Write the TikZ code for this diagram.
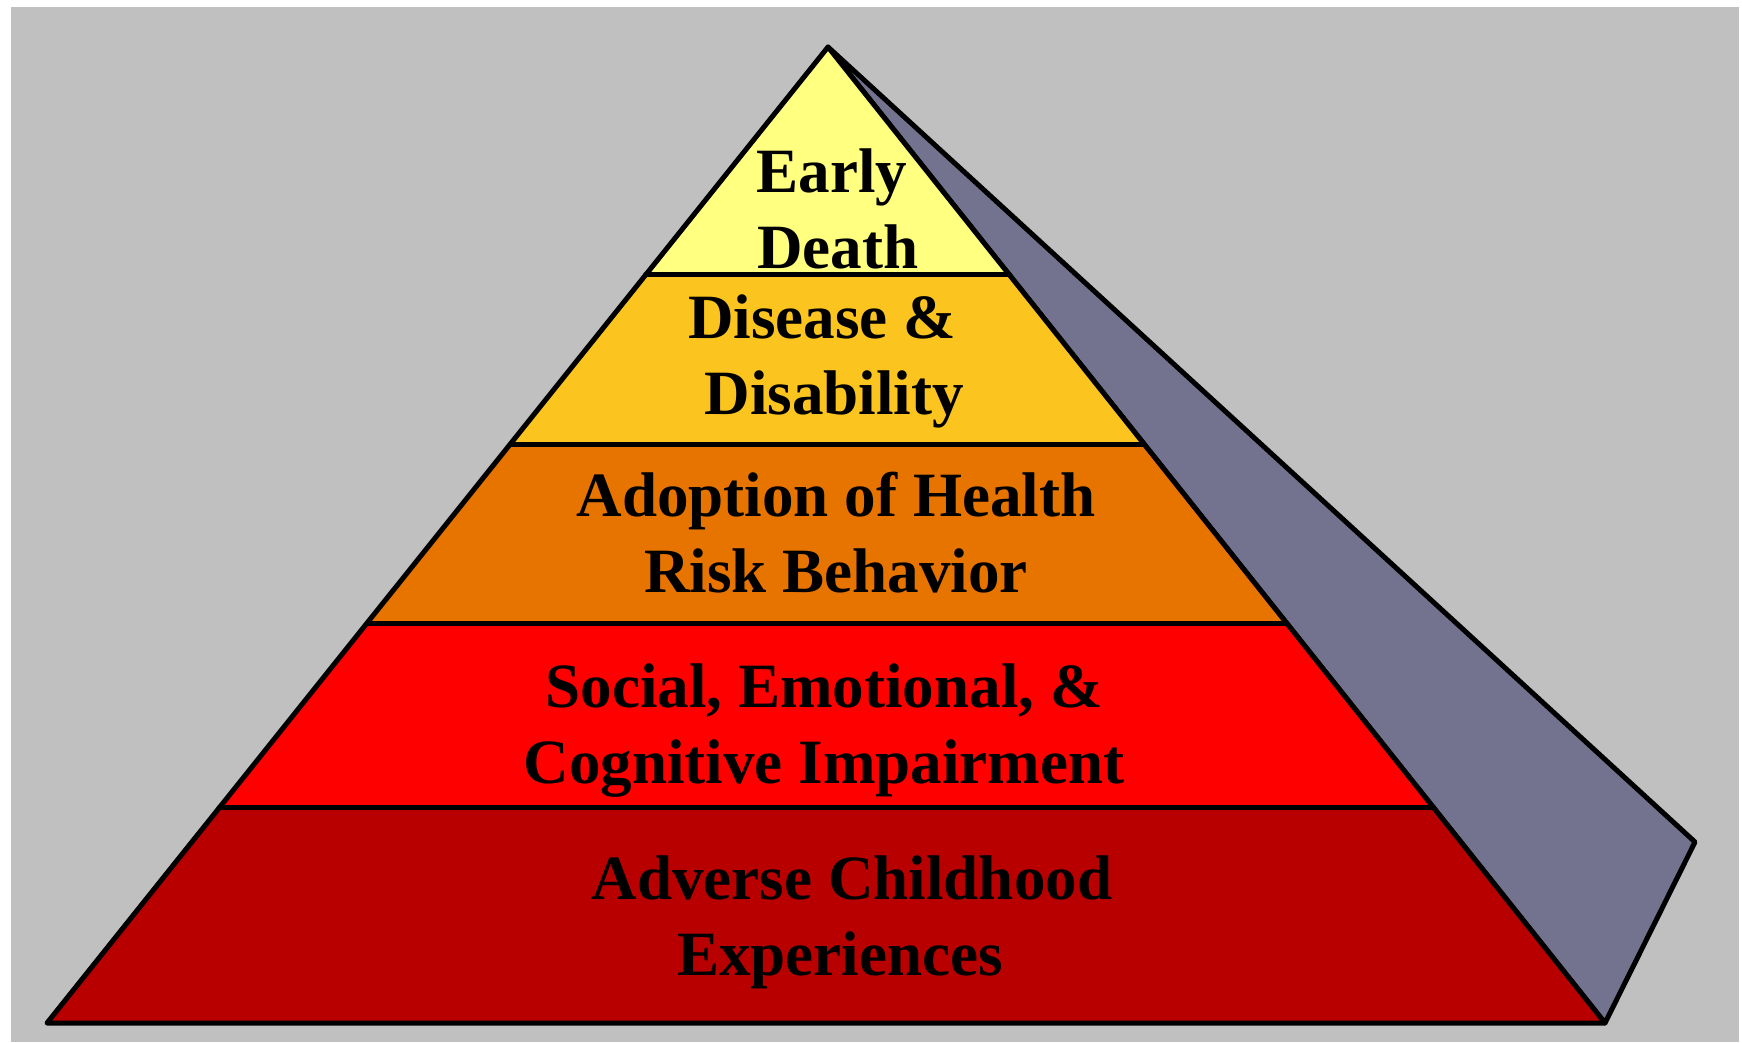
\documentclass[tikz,border=0pt]{standalone}
\usepackage{fontspec}
\setmainfont{Liberation Serif}
\usepackage{tikz}
\usetikzlibrary{calc}
\definecolor{ffffff}{rgb}{1.,1.,1.}
\definecolor{cccccc}{rgb}{0.7529,0.7529,0.7529}
\definecolor{ffff80}{rgb}{1.,1.,0.5}
\definecolor{fbc41f}{rgb}{0.984,0.769,0.122}
\definecolor{e87400}{rgb}{0.91,0.455,0.}
\definecolor{ff0000}{rgb}{1.,0.,0.}
\definecolor{b80000}{rgb}{0.722,0.,0.}
\definecolor{737390}{rgb}{0.451,0.451,0.565}
\tikzstyle{every node}=[font=\fontsize{35.9}{43.2}\selectfont\bfseries,align=center]

\begin{document}
\begin{tikzpicture}[line cap=round,line join=round,x=0.02cm,y=-0.02cm]
\useasboundingbox (0,0) rectangle (1742,1042);
\fill [color=ffffff] (0,0) rectangle (1742,1042);
\fill [color=cccccc] (11,7) rectangle (1739,1042);
% corners of the pyramid and its side face
\coordinate (top) at (828,47);
\coordinate (botL) at (47,1023);
\coordinate (botR) at (1605,1023);
\coordinate (side) at (1695,842);
% layer edges
\coordinate (l1) at ($(top)!0.2336!(botL)$);
\coordinate (r1) at ($(top)!0.2336!(botR)$);
\coordinate (l2) at ($(top)!0.4068!(botL)$);
\coordinate (r2) at ($(top)!0.4068!(botR)$);
\coordinate (l3) at ($(top)!0.5902!(botL)$);
\coordinate (r3) at ($(top)!0.5902!(botR)$);
\coordinate (l4) at ($(top)!0.7797!(botL)$);
\coordinate (r4) at ($(top)!0.7797!(botR)$);
\draw [line width=0.1cm,fill=737390] (top) -- (side) -- (botR) -- cycle;
\fill [color=ffff80] (top) -- (r1) -- (l1) -- cycle;
\fill [color=fbc41f] (l1) -- (r1) -- (r2) -- (l2) -- cycle;
\fill [color=e87400] (l2) -- (r2) -- (r3) -- (l3) -- cycle;
\fill [color=ff0000] (l3) -- (r3) -- (r4) -- (l4) -- cycle;
\fill [color=b80000] (l4) -- (r4) -- (botR) -- (botL) -- cycle;
\draw [line width=0.1cm] (l1) -- (r1);
\draw [line width=0.1cm] (l2) -- (r2);
\draw [line width=0.1cm] (l3) -- (r3);
\draw [line width=0.1cm] (l4) -- (r4);
\draw [line width=0.1cm] (top) -- (botR) -- (botL) -- cycle;
% labels, placed by the baseline of their last line
\node [anchor=base] (death) at (838,268) {Early\hspace{0.24cm}\mbox{}\\ Death};
\node [anchor=base] (disease) at (829,414) {Disease \&\hspace{0.28cm}\mbox{}\\ \,Disability};
\node [anchor=base] (adoption) at (836,592) {Adoption of Health\\ Risk Behavior};
\node [anchor=base] (impair) at (824,783) {Social, Emotional, \&\\ Cognitive Impairment};
\node [anchor=base] (ace) at (852,975) {Adverse Childhood\\ Experiences\hspace{0.48cm}\mbox{}};
\end{tikzpicture}
\end{document}
